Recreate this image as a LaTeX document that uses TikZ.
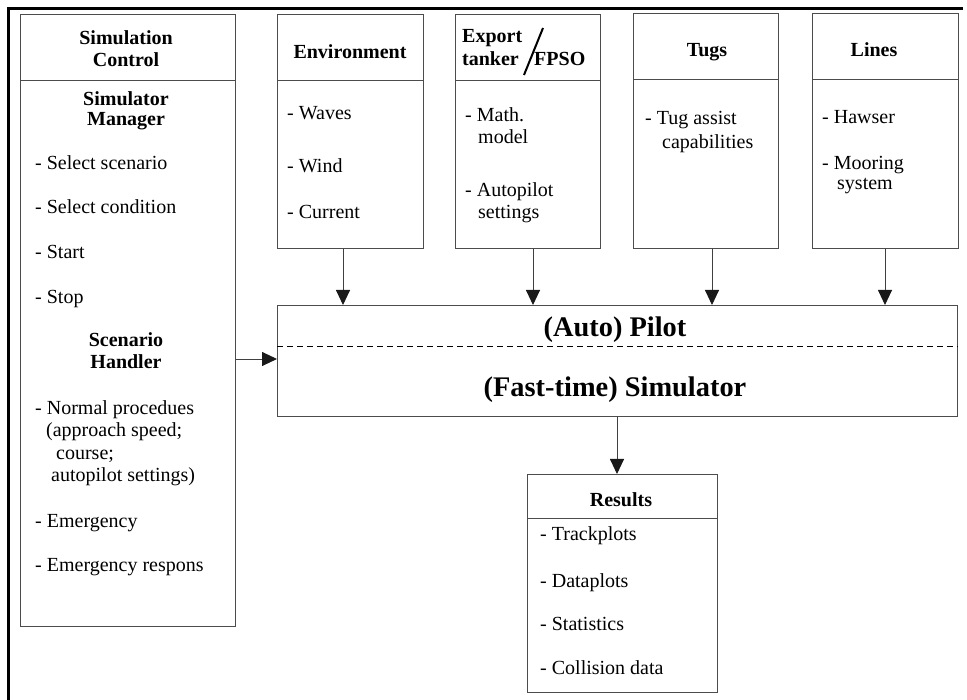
\documentclass[tikz,border=0pt]{standalone}
\usepackage{fontspec}
\setmainfont{Liberation Serif}
\usetikzlibrary{arrows.meta}
\begin{document}
\begin{tikzpicture}[x=1pt,y=-1pt,
  box/.style={draw=black!70, line width=1pt, inner sep=0pt, anchor=north west},
  hd/.style={inner sep=0pt, anchor=base, font=\fontsize{20}{22}\selectfont\bfseries},
  item/.style={inner sep=0pt, anchor=base west, font=\fontsize{20}{22}\selectfont},
  big/.style={inner sep=0pt, anchor=base, font=\fontsize{28.4}{30}\selectfont\bfseries},
  arr/.style={draw=black!75, line width=0.9pt, -{Triangle[width=14pt,length=15pt,color=black!90]}},
  divider/.style={draw=black!70, line width=1pt}]
\useasboundingbox (0,0) rectangle (967,700);

% outer frame (left and top edges)
\draw[line width=3pt] (8,700) -- (8,8.5) -- (963,8.5);

% boxes
\node[box, minimum width=215pt, minimum height=612pt] (sc) at (20,14) {};
\node[box, minimum width=146pt, minimum height=234pt] (env) at (277,14) {};
\node[box, minimum width=145pt, minimum height=234pt] (exp) at (455,14) {};
\node[box, minimum width=145pt, minimum height=235pt] (tug) at (633,13) {};
\node[box, minimum width=146pt, minimum height=235pt] (lin) at (812,13) {};
\node[box, minimum width=680pt, minimum height=111pt] (pilot) at (277,305) {};
\node[box, minimum width=190pt, minimum height=218pt] (res) at (527,474) {};

% header dividers
\draw[divider] (sc.west |- 0,81) -- (sc.east |- 0,81);
\draw[divider] (env.west |- 0,81) -- (env.east |- 0,81);
\draw[divider] (exp.west |- 0,81) -- (exp.east |- 0,81);
\draw[divider] (tug.west |- 0,80) -- (tug.east |- 0,80);
\draw[divider] (lin.west |- 0,80) -- (lin.east |- 0,80);
\draw[divider] (res.west |- 0,518) -- (res.east |- 0,518);
\draw[black, line width=0.8pt, dash pattern=on 6pt off 4pt] (pilot.west |- 0,346) -- (pilot.east |- 0,346);

% Simulation Control
\node[hd] (sct1) at (126,45) {Simulation};
\node[hd] (sct2) at (126,67) {Control};
\node[hd] (smg1) at (126,106) {Simulator};
\node[hd] (smg2) at (126,126) {Manager};
\node[item] (s1) at (35,170) {- Select scenario};
\node[item] (s2) at (35,214) {- Select condition};
\node[item] (s3) at (35,259) {- Start};
\node[item] (s4) at (35,304) {- Stop};
\node[hd] (sh1) at (126,347) {Scenario};
\node[hd] (sh2) at (126,369) {Handler};
\node[item] (n1) at (35,415) {- Normal procedues};
\node[item] (n2) at (46,437) {(approach speed;};
\node[item] (n3) at (56,460) {course;};
\node[item] (n4) at (51,482) {autopilot settings)};
\node[item] (e1) at (35,527) {- Emergency};
\node[item] (e2) at (35,571) {- Emergency respons};

% Environment
\node[hd] (envt) at (350,59) {Environment};
\node[item] (w1) at (287,120) {- Waves};
\node[item] (w2) at (287,173) {- Wind};
\node[item] (w3) at (287,219) {- Current};

% Export tanker / FPSO
\node[item, font=\fontsize{20}{22}\selectfont\bfseries] (ext1) at (462,43) {Export};
\node[item, font=\fontsize{20}{22}\selectfont\bfseries] (ext2) at (462,66) {tanker};
\node[item, font=\fontsize{20}{22}\selectfont\bfseries] (ext3) at (534,66) {FPSO};
\draw[line width=2pt] (524,75) -- (543,28);
\node[item] (m1) at (465,122) {- Math.};
\node[item] (m2) at (478,144) {model};
\node[item] (m3) at (465,197) {- Autopilot};
\node[item] (m4) at (478,219) {settings};

% Tugs
\node[hd] (tugt) at (707,57) {Tugs};
\node[item] (t1) at (645,125) {- Tug assist};
\node[item] (t2) at (662,149) {capabilities};

% Lines
\node[hd] (lint) at (874,57) {Lines};
\node[item] (l1) at (822,124) {- Hawser};
\node[item] (l2) at (822,170) {- Mooring};
\node[item] (l3) at (837,190) {system};

% Pilot / simulator
\node[big] (ap) at (615,337) {(Auto) Pilot};
\node[big] (fs) at (615,397) {(Fast-time) Simulator};

% Results
\node[hd] (rest) at (621,507) {Results};
\node[item] (r1) at (540,540) {- Trackplots};
\node[item] (r2) at (540,587) {- Dataplots};
\node[item] (r3) at (540,630) {- Statistics};
\node[item] (r4) at (540,674) {- Collision data};

% connectors
\draw[arr] (env.south -| 343,0) -- (pilot.north -| 343,0);
\draw[arr] (exp.south -| 533,0) -- (pilot.north -| 533,0);
\draw[arr] (tug.south -| 712,0) -- (pilot.north -| 712,0);
\draw[arr] (lin.south -| 885,0) -- (pilot.north -| 885,0);
\draw[arr] (sc.east |- 0,359) -- (pilot.west |- 0,359);
\draw[arr] (pilot.south -| 617,0) -- (res.north -| 617,0);
\end{tikzpicture}
\end{document}
